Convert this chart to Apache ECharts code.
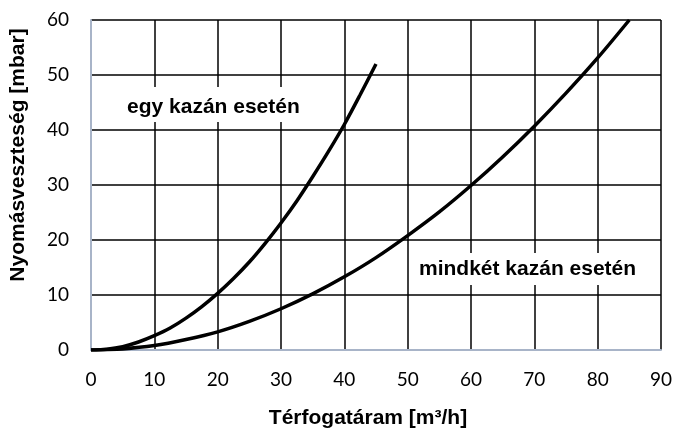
<!DOCTYPE html>
<html>
<head>
<meta charset="utf-8">
<script src="https://cdn.jsdelivr.net/npm/echarts@6/dist/echarts.min.js"></script>
<style>
  html, body { margin: 0; padding: 0; background: #fff; }
  #chart { width: 675px; height: 434px; }
</style>
</head>
<body>
<div id="chart"></div>
<script>
// Pressure loss vs. volume flow, one boiler and both boilers
const flowOne = [0, 2.5, 5, 7.5, 10, 12.5, 15, 17.5, 20, 22.5, 25, 27.5, 30, 32.5, 35, 37.5, 40, 42.5, 45];
const lossOne = [0, 0.15, 0.6, 1.45, 2.6, 4.0, 5.8, 7.9, 10.3, 13.0, 16.0, 19.4, 23.1, 27.1, 31.5, 36.1, 41.0, 46.4, 52.0];

const flowBoth = [0, 5, 10, 15, 20, 25, 30, 35, 40, 45, 50, 55, 60, 65, 70, 75, 80, 85];
const lossBoth = [0, 0.2, 0.8, 1.9, 3.3, 5.2, 7.5, 10.2, 13.3, 16.8, 20.8, 25.1, 29.9, 35.1, 40.7, 46.7, 53.1, 60.0];

const xTicks = [0, 10, 20, 30, 40, 50, 60, 70, 80, 90];
const yTicks = [0, 10, 20, 30, 40, 50, 60];

const labelOne = 'egy kazán esetén';
const labelBoth = 'mindkét kazán esetén';
const xName = 'Térfogatáram [m³/h]';
const yName = 'Nyomásveszteség [mbar]';

const pairs = (xs, ys) => xs.map((x, i) => [x, ys[i]]);

const chart = echarts.init(document.getElementById('chart'), null, { renderer: 'canvas' });

const tickFont = { fontFamily: 'Lato', fontSize: 19, color: '#000' };
const boldFont = { fontFamily: 'Liberation Sans', fontWeight: 'bold', fontSize: 21, lineHeight: 21, fill: '#000' };

chart.setOption({
  animation: false,
  backgroundColor: '#fff',
  grid: { left: 91, right: 14, top: 20, bottom: 84 },
  xAxis: {
    type: 'value',
    min: xTicks[0],
    max: xTicks[xTicks.length - 1],
    interval: 10,
    axisLine: { show: true, lineStyle: { color: '#A8B4C8', width: 2 } },
    axisTick: { show: false },
    axisLabel: Object.assign({ margin: 20 }, tickFont),
    splitLine: { show: true, lineStyle: { color: '#000', width: 1.5 } }
  },
  yAxis: {
    type: 'value',
    min: yTicks[0],
    max: yTicks[yTicks.length - 1],
    interval: 10,
    axisLine: { show: true, onZero: false, lineStyle: { color: '#A8B4C8', width: 2 } },
    axisTick: { show: false },
    axisLabel: Object.assign({ margin: 22 }, tickFont),
    splitLine: { show: true, lineStyle: { color: '#000', width: 1.5 } }
  },
  series: [
    {
      type: 'line',
      data: pairs(flowOne, lossOne),
      smooth: 0.3,
      showSymbol: false,
      lineStyle: { color: '#000', width: 3.5 },
      z: 3
    },
    {
      type: 'line',
      data: pairs(flowBoth, lossBoth),
      smooth: 0.3,
      showSymbol: false,
      lineStyle: { color: '#000', width: 3.5 },
      z: 3
    }
  ],
  graphic: [
    {
      type: 'text', left: 122, top: 87, z: 10,
      style: Object.assign({ text: labelOne, backgroundColor: '#fff', padding: [10, 5, 4, 5] }, boldFont)
    },
    {
      type: 'text', left: 411, top: 253, z: 10,
      style: Object.assign({ text: labelBoth, backgroundColor: '#fff', padding: [6, 8, 5, 8] }, boldFont)
    },
    {
      type: 'text', x: 368, y: 418, z: 10,
      style: Object.assign({ text: xName, align: 'center', verticalAlign: 'middle' }, boldFont)
    },
    {
      type: 'text', x: 18, y: 155, rotation: Math.PI / 2, z: 10,
      style: Object.assign({ text: yName, align: 'center', verticalAlign: 'middle' }, boldFont)
    }
  ]
});
</script>
</body>
</html>
